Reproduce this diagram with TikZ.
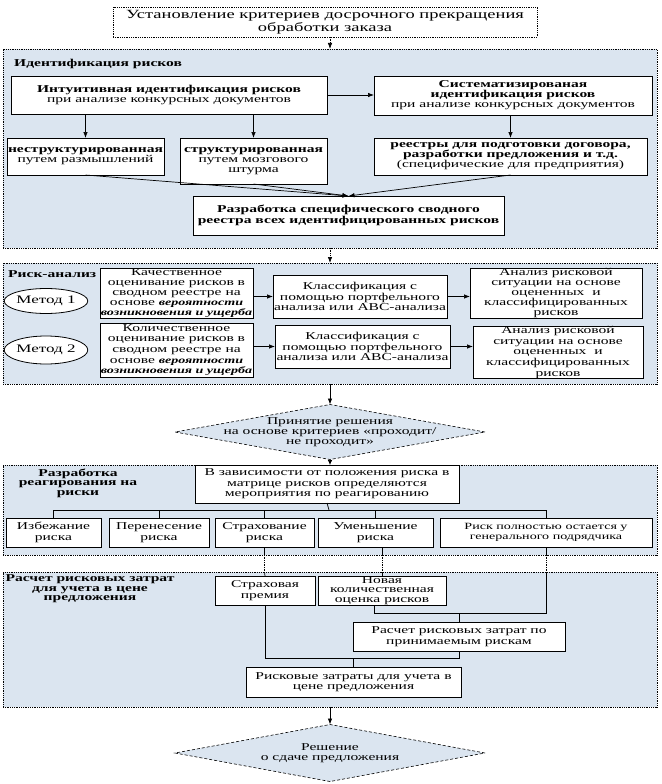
\documentclass[tikz,border=0pt]{standalone}
\usepackage{fontspec}
\setmainfont{Liberation Serif}[FakeStretch=1.48]
\usetikzlibrary{shapes.geometric,arrows.meta}
\definecolor{secfill}{RGB}{219,229,240}
\tikzset{
  sec/.style={draw, densely dotted, fill=secfill, line width=0.8pt, inner sep=0pt, outer sep=0pt},
  wbox/.style={draw, fill=white, line width=0.8pt, align=center, inner sep=0pt, outer sep=0pt},
  arr/.style={-{Latex[length=6pt,width=4.5pt]}, line width=0.7pt},
  ln/.style={line width=0.7pt},
  ft/.style={font=\fontsize{12.5}{13.5}\selectfont},
  fn/.style={font=\fontsize{10.5}{10}\selectfont},
  fm/.style={font=\fontsize{10.5}{10.6}\selectfont},
  fs/.style={font=\fontsize{9.5}{10}\selectfont},
  lab/.style={font=\bfseries\fontsize{10.5}{9.5}\selectfont, align=center, inner sep=0pt},
  dia/.style={diamond, draw, densely dashed, fill=secfill, line width=0.6pt, inner sep=0pt, outer sep=0pt},
  ell/.style={ellipse, draw, fill=white, line width=0.8pt, inner sep=0pt, outer sep=0pt, font=\fontsize{11.5}{11}\selectfont},
}
\newcommand\bx[7][]{\node[wbox,#1,minimum width={(#4-#2)*1pt},minimum height={(#5-#3)*1pt}] (#7) at ({(#2+#4)/2},{(#3+#5)/2}) {#6};}
\newcommand\sx[5]{\node[sec,minimum width={(#3-#1)*1pt},minimum height={(#4-#2)*1pt}] (#5) at ({(#1+#3)/2},{(#2+#4)/2}) {};}
\newcommand\bi[1]{\textbf{\textit{\fontsize{9.5}{10}\selectfont #1}}}
\begin{document}
\begin{tikzpicture}[x=1pt,y=-1pt]
\useasboundingbox (0,0) rectangle (661,784);
% top box
\node[draw, densely dotted, fill=white, line width=0.8pt, align=center, inner sep=0pt, outer sep=0pt, ft,
  minimum width=424pt, minimum height=30pt] (top) at (325,22)
  {Установление критериев досрочного прекращения\\обработки заказа};
% sections
\sx{3}{49}{657}{248}{s1}
\sx{3}{263}{657}{384}{s2}
\sx{3}{465}{657}{555}{s3}
\sx{3}{572}{657}{707}{s4}
% ---- section 1
\node[lab, anchor=west] (l1) at (14,64) {Идентификация рисков};
\bx[fn]{11}{76}{327}{114}{\textbf{Интуитивная идентификация рисков}\\при анализе конкурсных документов}{int}
\bx[fn]{374}{76}{652}{115}{\textbf{Систематизированая}\\\textbf{идентификация рисков}\\при анализе конкурсных документов}{sys}
\bx[fn]{7}{138}{164}{175}{\textbf{неструктурированная}\\путем размышлений}{nes}
\bx[fn]{180}{138}{327}{184}{\textbf{структурированная}\\путем мозгового\\штурма}{str}
\bx[fn]{374}{138}{647}{175}{\textbf{реестры для подготовки договора,}\\\textbf{разработки предложения и т.д.}\\(специфические для предприятия)}{ree}
\bx[fm]{193}{196}{504}{235}{\textbf{Разработка специфического сводного}\\\textbf{реестра всех идентифицированных рисков}}{raz}
% ---- section 2
\node[lab, anchor=west] (l2) at (8,274) {Риск-анализ};
\node[ell, minimum width=66pt, minimum height=25pt] (m1) at (46,301) {Метод 1};
\node[ell, minimum width=68pt, minimum height=28pt] (m2) at (46,350) {Метод 2};
\bx[fn]{100}{268}{253}{318}{Качественное\\оценивание рисков в\\сводном реестре на\\основе \bi{вероятности}\\\bi{возникновения и ущерба}}{kach}
\bx[fm]{273}{275}{447}{318}{Классификация с\\помощью портфельного\\анализа или АВС-анализа}{klasa}
\bx[fn]{470}{268}{642}{318}{Анализ рисковой\\ситуации на основе\\оцененных~~и\\классифицированных\\рисков}{ana}
\bx[fm]{100}{323}{253}{377}{Количественное\\оценивание рисков в\\сводном реестре на\\основе \bi{вероятности}\\\bi{возникновения и ущерба}}{kol}
\bx[fm]{275}{325}{450}{368}{Классификация с\\помощью портфельного\\анализа или АВС-анализа}{klasb}
\bx[fm]{473}{327}{643}{378}{Анализ рисковой\\ситуации на основе\\оцененных~~и\\классифицированных\\рисков}{anb}
% ---- decision 1
\node[dia, minimum width=310pt, minimum height=55pt] (d1) at (330,432) {};
\node[fn, align=center, inner sep=0pt] (d1t) at (d1.center) {Принятие решения\\на основе критериев «проходит/\\не проходит»};
% ---- section 3
\node[lab] (l3) at (78,483) {Разработка\\реагирования на\\риски};
\bx[fm]{195}{465}{459}{503}{В зависимости от положения риска в\\матрице рисков определяются\\мероприятия по реагированию}{vz}
\bx[fm]{6}{518}{101}{547}{Избежание\\риска}{izb}
\bx[fm]{109}{518}{209}{547}{Перенесение\\риска}{per}
\bx[fm]{215}{518}{314}{547}{Страхование\\риска}{strx}
\bx[fm]{318}{518}{433}{547}{Уменьшение\\риска}{umen}
\bx[fs]{440}{518}{652}{547}{Риск полностью остается у\\генерального подрядчика}{risk}
% ---- section 4
\node[lab] (l4) at (90,589) {Расчет рисковых затрат\\для учета в цене\\предложения};
\bx[fm]{215}{576}{315}{605}{Страховая\\премия}{strp}
\bx[font=\fontsize{10.5}{9.6}\selectfont]{318}{576}{446}{605}{Новая\\количественная\\оценка рисков}{nov}
\bx[fm]{353}{622}{565}{651}{Расчет рисковых затрат по\\принимаемым рискам}{ras}
\bx[fm]{246}{667}{461}{697}{Рисковые затраты для учета в\\цене предложения}{ris}
% ---- decision 2
\node[dia, minimum width=310pt, minimum height=57pt] (d2) at (330,753) {};
\node[fn, align=center, inner sep=0pt] (d2t) at (d2.center) {Решение\\о сдаче предложения};
% ---- connectors
\draw[arr, densely dotted] (top.south -| s1.north) -- (s1.north);
\draw[arr] (int.east) -- (int.east -| sys.west);
\draw[arr] (nes.north |- int.south) -- (nes.north);
\draw[arr] (str.north |- int.south) -- (str.north);
\draw[arr] (ree.north |- sys.south) -- (ree.north);
\draw[arr] (nes.south) -- (raz.north);
\draw[arr] (str.south) -- (raz.north);
\draw[arr] (ree.south) -- (raz.north);
\draw[arr, densely dotted] (s1.south) -- (s2.north);
\draw[arr] (kach.east |- klasa.west) -- (klasa.west);
\draw[arr] (klasa.east) -- (klasa.east -| ana.west);
\draw[arr] (kol.east |- klasb.west) -- (klasb.west);
\draw[arr] (klasb.east) -- (klasb.east -| anb.west);
\draw[arr] (s2.south) -- (d1.north);
\draw[-{Latex[length=5pt,width=4.5pt]}, line width=0.7pt] (d1.south) -- (s3.north);
% bus
\coordinate (bus) at (329,510);
\draw[ln] (vz.south) -- (bus);
\foreach \b in {izb,per,strx,umen,risk} \draw[ln] (\b.north) |- (bus);
% section 3 -> section 4
\draw[ln] (strx.south) -- (strx.south |- s3.south);
\draw[ln, densely dotted] (strx.south |- s3.south) -- (strx.south |- s4.north);
\draw[ln] (strx.south |- s4.north) -- (strp.north);
\draw[ln] (nov.north |- umen.south) -- (nov.north |- s3.south);
\draw[ln, densely dotted] (nov.north |- s3.south) -- (nov.north |- s4.north);
\draw[ln] (nov.north |- s4.north) -- (nov.north);
\draw[ln] (risk.south) -- (risk.south |- s3.south);
\draw[ln, densely dotted] (risk.south |- s3.south) -- (risk.south |- s4.north);
\coordinate (ja) at (374,613);
\coordinate (jb) at (265,658);
\draw[ln] (risk.south |- s4.north) -- (risk.south |- ja) -- (ja) -- (nov.south -| ja);
\draw[ln] (ras.north) -- (ras.north |- ja);
\draw[ln] (strp.south) -- (jb) -- (jb -| ras.south) -- (ras.south);
\draw[ln] (ris.north) -- (ris.north |- jb);
\draw[arr] (s4.south) -- (d2.north);
\end{tikzpicture}
\end{document}
